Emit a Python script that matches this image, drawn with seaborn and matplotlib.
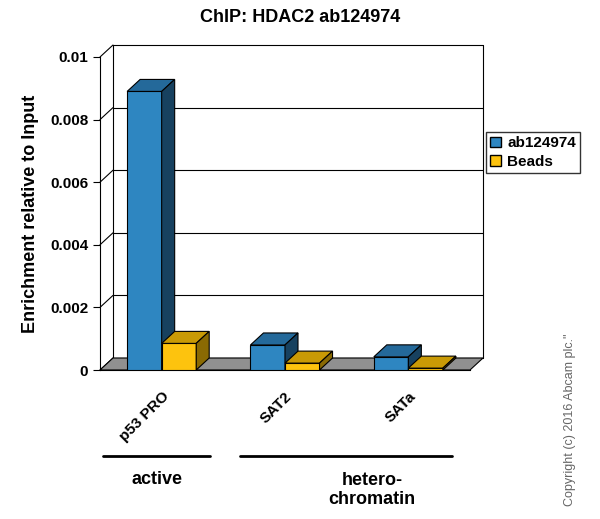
import matplotlib
matplotlib.use("Agg")
import matplotlib.pyplot as plt
import matplotlib.transforms as mtransforms
from matplotlib.patches import Polygon, Patch
import seaborn as sns
import pandas as pd

categories = ["p53 PRO", "SAT2", "SATa"]
ab124974 = [0.0089, 0.0008, 0.00042]
beads = [0.00085, 0.00022, 0.00006]
series = ["ab124974", "Beads"]
colors = {"ab124974": "#2e86c1", "Beads": "#fdc30e"}
dark = {"ab124974": ("#24699a", "#17415f"), "Beads": ("#c99a05", "#8a6a03")}
yticks = [0, 0.002, 0.004, 0.006, 0.008, 0.01]

df = pd.DataFrame({
    "cat": categories * 2,
    "series": ["ab124974"] * 3 + ["Beads"] * 3,
    "val": ab124974 + beads,
})

sns.set_style("white")
plt.rcParams["font.family"] = ["Liberation Sans", "DejaVu Sans"]
plt.rcParams["text.color"] = "black"
plt.rcParams["axes.labelcolor"] = "black"
plt.rcParams["xtick.color"] = "black"
plt.rcParams["ytick.color"] = "black"
fig = plt.figure(figsize=(6, 5.19), dpi=100)
ax = fig.add_axes([100 / 600, 1 - 370 / 519, 370 / 600, 313 / 519])
sns.barplot(data=df, x="cat", y="val", hue="series", palette=colors, width=0.56,
            saturation=1, ax=ax, legend=False, edgecolor="black", linewidth=0.8, zorder=3)
ax.set_ylim(0, 0.01)
ax.set_xlim(-0.5, 2.5)
DX, DY = 13, 12
off = mtransforms.offset_copy(ax.transData, fig=fig, x=DX, y=DY, units="dots")
inv = ax.transData.inverted()

def shift(x, y):
    px, py = ax.transData.transform((x, y))
    return inv.transform((px + DX, py + DY))

for t in yticks:
    ax.plot([-0.5, 2.5], [t, t], transform=off, color="black", lw=0.8, zorder=1, clip_on=False)
    a = (-0.5, t); b = shift(-0.5, t)
    ax.plot([a[0], b[0]], [a[1], b[1]], color="black", lw=0.8, zorder=1, clip_on=False)
ax.plot([2.5, 2.5], [0, 0.01], transform=off, color="black", lw=0.8, zorder=1, clip_on=False)
ax.plot([-0.5, -0.5], [0, 0.01], transform=off, color="black", lw=0.8, zorder=1, clip_on=False)
p0 = (-0.5, 0); p1 = (2.5, 0); p2 = shift(2.5, 0); p3 = shift(-0.5, 0)
ax.add_patch(Polygon([p0, p1, p2, p3], closed=True, facecolor="#909090",
                     edgecolor="black", lw=0.8, zorder=2, clip_on=False))

for i, bar in enumerate(ax.patches[:6]):
    s = series[i // 3]
    x0 = bar.get_x(); w = bar.get_width(); h = bar.get_height()
    x1 = x0 + w
    z = 3 + (i // 3) * 0.1
    bar.set_zorder(z)
    top = [(x0, h), (x1, h), shift(x1, h), shift(x0, h)]
    side = [(x1, 0), (x1, h), shift(x1, h), shift(x1, 0)]
    ax.add_patch(Polygon(top, closed=True, facecolor=dark[s][0], edgecolor="black",
                         lw=0.8, zorder=z, clip_on=False))
    ax.add_patch(Polygon(side, closed=True, facecolor=dark[s][1], edgecolor="black",
                         lw=0.8, zorder=z, clip_on=False))

ax.set_yticks(yticks)
ax.set_yticklabels(["0", "0.002", "0.004", "0.006", "0.008", "0.01"], fontsize=11, fontweight="bold")
ax.set_xticks([0, 1, 2])
ax.set_xticklabels(categories, rotation=45, ha="right", rotation_mode="anchor",
                   fontsize=11, fontweight="bold")
ax.tick_params(axis="y", length=5, direction="out", left=True)
ax.tick_params(axis="x", length=0, pad=14)
for sp in ["top", "right"]:
    ax.spines[sp].set_visible(False)
ax.spines["left"].set_color("black")
ax.spines["bottom"].set_color("black")
ax.set_xlabel("")
ax.set_ylabel("Enrichment relative to Input", fontsize=13, fontweight="bold", labelpad=8)
fig.text(0.5, 1 - 18 / 519, "ChIP: HDAC2 ab124974", ha="center", va="center",
         fontsize=13, fontweight="bold")

fig.add_artist(plt.Line2D([103 / 600, 210 / 600], [1 - 456 / 519] * 2, color="black", lw=2))
fig.add_artist(plt.Line2D([240 / 600, 452 / 600], [1 - 456 / 519] * 2, color="black", lw=2))
fig.text(157 / 600, 1 - 480 / 519, "active", ha="center", va="center", fontsize=13, fontweight="bold")
fig.text(372 / 600, 1 - 490 / 519, "hetero-\nchromatin", ha="center", va="center",
         fontsize=13, fontweight="bold", linespacing=1.2)

handles = [Patch(facecolor=colors[s], edgecolor="black", label=s) for s in series]
fig.legend(handles=handles, loc="upper left", bbox_to_anchor=(478 / 600, 1 - 124 / 519),
           frameon=True, edgecolor="black", fancybox=False,
           prop={"weight": "bold", "size": 11}, handlelength=0.7, handleheight=0.7,
           handletextpad=0.4, borderpad=0.3, labelspacing=0.3)

fig.text(570 / 600, 1 - 420 / 519, 'Copyright (c) 2016 Abcam plc."', rotation=90,
         ha="center", va="center", fontsize=9, color="#666666")

fig.savefig("out.png", dpi=100)
